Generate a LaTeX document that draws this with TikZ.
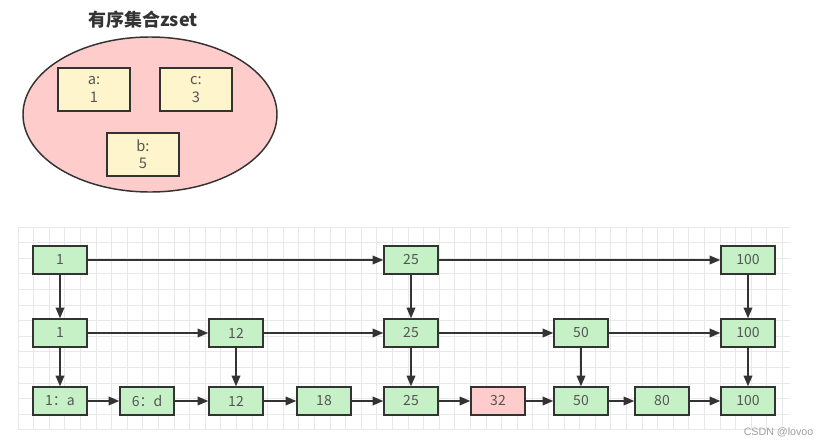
\documentclass[tikz,border=0pt]{standalone}
\usepackage{fontspec}
\setmainfont{Noto Sans CJK SC}
\newfontfamily\wmfont{Liberation Sans}
\usetikzlibrary{arrows.meta}
\definecolor{gridc}{HTML}{E8E8E8}
\definecolor{nodegreen}{HTML}{C6F1C6}
\definecolor{nodepink}{HTML}{FFCCCC}
\definecolor{boxyellow}{HTML}{FFF5CC}
\definecolor{edgec}{HTML}{333333}
\definecolor{txt}{HTML}{555555}
\tikzset{
  sknode/.style={draw=edgec, line width=1.1pt, fill=nodegreen, minimum width=40.5pt, minimum height=21pt, inner sep=0pt, text=txt, font=\fontsize{10.5}{12}\selectfont},
  hitnode/.style={sknode, fill=nodepink},
  kvbox/.style={draw=edgec, line width=1.1pt, fill=boxyellow, minimum width=54pt, minimum height=32.5pt, inner sep=0pt, text=txt, align=center, font=\fontsize{11}{13}\selectfont},
  link/.style={draw=edgec, line width=1.1pt, -{Triangle[length=8pt,width=6.5pt]}}
}
\begin{document}
\begin{tikzpicture}[x=0.75pt, y=-0.75pt]
\useasboundingbox (0,0) rectangle (833,447);
% grid
\begin{scope}
\clip (18,227) rectangle (790,430);
\foreach \i in {0,...,50} {\draw[gridc, line width=0.5pt] (18+\i*15.6,227) -- (18+\i*15.6,430);}
\foreach \j in {0,...,13} {\draw[gridc, line width=0.5pt] (18,227+\j*15.6) -- (790,227+\j*15.6);}
\end{scope}
% zset
\node[font=\bfseries\fontsize{13.5}{15}\selectfont, text=edgec] (title) at (143,20) {有序集合zset};
\draw[draw=edgec, line width=1.1pt, fill=nodepink] (150,114.5) ellipse [x radius=127, y radius=77.5];
\node[kvbox] (ka) at (94,89.5) {a:\\1};
\node[kvbox] (kc) at (196,89.5) {c:\\3};
\node[kvbox] (kb) at (143,154.5) {b:\\5};
% skip list
\node[sknode] (t1) at (60,260) {1};
\node[sknode] (t25) at (411,260) {25};
\node[sknode] (t100) at (748,260) {100};
\node[sknode] (m1) at (60,333) {1};
\node[sknode] (m12) at (236,333) {12};
\node[sknode] (m25) at (411,333) {25};
\node[sknode] (m50) at (581,333) {50};
\node[sknode] (m100) at (748,333) {100};
\node[sknode] (b1) at (60,401) {1：a};
\node[sknode] (b6) at (147,401) {6：d};
\node[sknode] (b12) at (236,401) {12};
\node[sknode] (b18) at (324,401) {18};
\node[sknode] (b25) at (411,401) {25};
\node[hitnode] (b32) at (498,401) {32};
\node[sknode] (b50) at (581,401) {50};
\node[sknode] (b80) at (662,401) {80};
\node[sknode] (b100) at (748,401) {100};
% edges
\draw[link] (t1) -- (t25);
\draw[link] (t25) -- (t100);
\draw[link] (t1) -- (m1);
\draw[link] (t25) -- (m25);
\draw[link] (t100) -- (m100);
\draw[link] (m1) -- (m12);
\draw[link] (m12) -- (m25);
\draw[link] (m25) -- (m50);
\draw[link] (m50) -- (m100);
\draw[link] (m1) -- (b1);
\draw[link] (m12) -- (b12);
\draw[link] (m25) -- (b25);
\draw[link] (m50) -- (b50);
\draw[link] (m100) -- (b100);
\draw[link] (b1) -- (b6);
\draw[link] (b6) -- (b12);
\draw[link] (b12) -- (b18);
\draw[link] (b18) -- (b25);
\draw[link] (b25) -- (b32);
\draw[link] (b32) -- (b50);
\draw[link] (b50) -- (b80);
\draw[link] (b80) -- (b100);
% watermark
\node[text=gray!75, font=\wmfont\fontsize{8}{9}\selectfont, anchor=east] (wm) at (818,432) {CSDN @lovoo};
\end{tikzpicture}
\end{document}
